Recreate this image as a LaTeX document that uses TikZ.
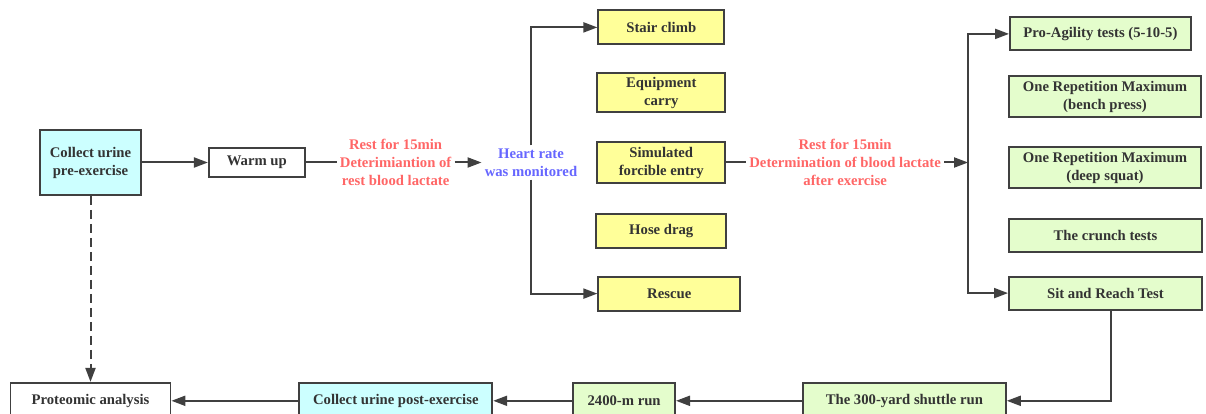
\documentclass[tikz,border=0pt]{standalone}
\usepackage{fontspec}
\setmainfont{Liberation Serif}
\usepackage{tikz}
\usetikzlibrary{shapes,positioning,arrows.meta}

\definecolor{linegray}{HTML}{404040}
\definecolor{textgray}{HTML}{333333}
\definecolor{cyanfill}{HTML}{CCFFFF}
\definecolor{yellowfill}{HTML}{FFFF99}
\definecolor{greenfill}{HTML}{E4FDCC}
\definecolor{restred}{HTML}{FF6666}
\definecolor{hrblue}{HTML}{6666FF}

\begin{document}
\begin{tikzpicture}[font=\fontsize{14.7pt}{18pt}\selectfont\bfseries,
	text=textgray,
	box/.style={draw=linegray, line width=1.8pt, align=center, inner sep=2pt},
	note/.style={align=center, inner sep=3pt},
	flow/.style={draw=linegray, line width=2pt, -{Triangle[length=14pt,width=10pt]}},
	plain/.style={draw=linegray, line width=2pt}]
		
		\useasboundingbox (0,0) rectangle (1206pt,-414pt);
		
		\node[box,
		fill=cyanfill,
		minimum width=101pt,
		minimum height=65pt] (block1) at (90.5pt,-162.5pt) {Collect urine\\pre-exercise};
		
		\node[box,
		fill=white,
		right=66pt of block1,
		minimum width=96pt,
		minimum height=29pt] (block2) {Warm up};
		
		\node[note,
		text=restred,
		right=31pt of block2] (rest1) {Rest for 15min\\Deterimiantion of\\rest blood lactate};
		
		\node[note,
		text=hrblue,
		right=27pt of rest1] (hr) {Heart rate\\was monitored};
		
		% Fire tasks
		\node[box,
		fill=yellowfill,
		right=16pt of hr,
		minimum width=128pt,
		minimum height=41pt] (block5) {Simulated\\forcible entry};
		
		\node[box,
		fill=yellowfill,
		above=28pt of block5,
		minimum width=128pt,
		minimum height=39pt] (block4) {Equipment\\carry};
		
		\node[box,
		fill=yellowfill,
		above=27pt of block4,
		minimum width=126pt,
		minimum height=34pt] (block3) {Stair climb};
		
		\node[box,
		fill=yellowfill,
		below=29pt of block5,
		minimum width=130pt,
		minimum height=34pt] (block6) {Hose drag};
		
		\node[box,
		fill=yellowfill,
		below=27pt of block6.south west,
		anchor=north west,
		xshift=2pt,
		minimum width=142pt,
		minimum height=34pt] (block7) {Rescue};
		
		\node[note,
		text=restred,
		right=20pt of block5] (rest2) {Rest for 15min\\Determination of blood lactate\\after exercise};
		
		\coordinate[right=24pt of rest2] (split);
		
		% Fitness tests
		\node[box,
		fill=greenfill,
		right=40pt of split,
		yshift=-5pt,
		minimum width=192pt,
		minimum height=41pt] (block10) {One Repetition Maximum\\(deep squat)};
		
		\node[box,
		fill=greenfill,
		above=28pt of block10,
		minimum width=192pt,
		minimum height=41pt] (block9) {One Repetition Maximum\\(bench press)};
		
		\node[box,
		fill=greenfill,
		above=24pt of block9.north west,
		anchor=south west,
		xshift=1pt,
		minimum width=181pt,
		minimum height=33pt] (block8) {Pro-Agility tests (5-10-5)};
		
		\node[box,
		fill=greenfill,
		below=29pt of block10.south west,
		anchor=north west,
		minimum width=193pt,
		minimum height=33pt] (block11) {The crunch tests};
		
		\node[box,
		fill=greenfill,
		below=23pt of block11,
		minimum width=193pt,
		minimum height=33pt] (block12) {Sit and Reach Test};
		
		% Bottom row
		\node[box,
		fill=white,
		below=186pt of block1,
		minimum width=160pt,
		minimum height=36pt] (block16) {Proteomic analysis};
		
		\node[box,
		fill=cyanfill,
		right=127pt of block16,
		minimum width=193pt,
		minimum height=36pt] (block15) {Collect urine post-exercise};
		
		\node[box,
		fill=greenfill,
		right=79pt of block15,
		minimum width=102pt,
		minimum height=36pt] (block14) {2400-m run};
		
		\node[box,
		fill=greenfill,
		right=126pt of block14,
		minimum width=203pt,
		minimum height=36pt] (block13) {The 300-yard shuttle run};
		
		% Arrows
		\draw[flow] (block1) -- (block2);
		\draw[plain] (block2) -- (rest1);
		\draw[flow] (rest1) -- (hr);
		\draw[flow] (hr) |- (block3);
		\draw[flow] (hr) |- (block7);
		
		\draw[plain] (block5) -- (rest2);
		\draw[flow] (rest2) -- (split);
		\draw[flow] (split) |- (block8);
		\draw[flow] (split) |- (block12);
		
		\draw[flow] ([xshift=6pt]block12.south) |- (block13);
		\draw[flow] (block13) -- (block14);
		\draw[flow] (block14) -- (block15);
		\draw[flow] (block15) -- (block16);
		
		\draw[flow, dash pattern=on 9pt off 5pt] (block1) -- (block16);
		
\end{tikzpicture}
\end{document}
